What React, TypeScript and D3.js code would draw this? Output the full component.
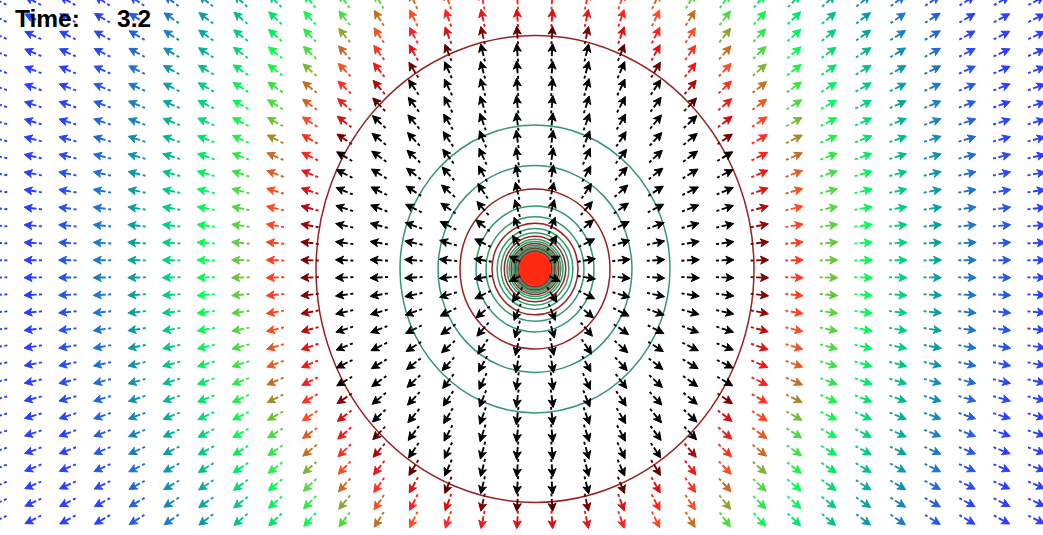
import React from "react";
import * as d3 from "d3";

const WIDTH = 1043;
const HEIGHT = 535;

const TIME_LABEL = "Time:";
const TIME_VALUE = "3.2";

// Arrow grid (column / row index ranges and their pixel extents)
const GRID_COLS = d3.range(0, 31);
const GRID_ROWS = d3.range(0, 31);
const COL_EXTENT = [-1.6, 1036.4];
const ROW_EXTENT = [0.7, 519.7];

// Source position (pixels) and vertical stretch of the field
const SOURCE_X = 535;
const SOURCE_Y = 269;
const ASPECT = 1.066;

// Wave front radius (horizontal px) — inside it the field is black
const WAVE_FRONT = 219;

// Contour radii (horizontal px) and their kind
const CONTOUR_RADII = [219, 135, 97, 75, 59, 49, 43, 37.9, 33.9, 30.7, 28, 25.8, 23.9, 22.2, 20.8, 19.5, 18.4, 17.4, 16.5];
const CONTOUR_KIND = ["b", "g", "g", "b", "g", "g", "b", "g", "g", "b", "g", "g", "b", "g", "g", "b", "g", "g", "b"];
const CONTOUR_COLORS: Record<string, string> = { b: "#992222", g: "#33996a" };

// Colour by distance outside the wave front
const COLOR_DIST = [219, 226, 236, 250, 265, 283, 296, 330, 365, 400, 440, 490, 800];
const COLOR_STOPS = ["#500000", "#800000", "#e01010", "#ff2020", "#ff4a20", "#c07020", "#60d040", "#00ff50", "#00d080", "#0aa0a0", "#2070d0", "#2a40ff", "#3333ff"];

const DOT_RX = 16;
const DOT_RY = 17;

const ARROW_LEN = 18;
const HEAD_LEN = 8;
const HEAD_HALF = 4;

export default function App() {
  const xScale = d3.scaleLinear().domain([0, GRID_COLS.length - 1]).range(COL_EXTENT);
  const yScale = d3.scaleLinear().domain([0, GRID_ROWS.length - 1]).range(ROW_EXTENT);
  const colorScale = d3
    .scaleLinear<string>()
    .domain(COLOR_DIST)
    .range(COLOR_STOPS)
    .interpolate(d3.interpolateRgb)
    .clamp(true);

  const arrows: { key: string; shaft: string; head: string; color: string }[] = [];
  GRID_ROWS.forEach((j) => {
    GRID_COLS.forEach((i) => {
      const cx = xScale(i);
      const cy = yScale(j);
      const dx = cx - SOURCE_X;
      const dy = cy - SOURCE_Y;
      const n = Math.hypot(dx, dy) || 1;
      const ux = dx / n;
      const uy = dy / n;
      const rEll = Math.hypot(dx, dy / ASPECT);
      const color = rEll < WAVE_FRONT ? "#000000" : colorScale(rEll);
      const tx = cx - (ux * ARROW_LEN) / 2;
      const ty = cy - (uy * ARROW_LEN) / 2;
      const hx = cx + (ux * ARROW_LEN) / 2;
      const hy = cy + (uy * ARROW_LEN) / 2;
      const bx = hx - ux * HEAD_LEN;
      const by = hy - uy * HEAD_LEN;
      const px = -uy * HEAD_HALF;
      const py = ux * HEAD_HALF;
      const shaft = d3.path();
      shaft.moveTo(tx, ty);
      shaft.lineTo(bx + ux * 2, by + uy * 2);
      const head = d3.path();
      head.moveTo(hx, hy);
      head.lineTo(bx + px, by + py);
      head.lineTo(bx + ux * 2, by + uy * 2);
      head.lineTo(bx - px, by - py);
      head.closePath();
      arrows.push({ key: `${i}-${j}`, shaft: shaft.toString(), head: head.toString(), color });
    });
  });

  return (
    <svg
      width={WIDTH}
      height={HEIGHT}
      style={{ position: "absolute", left: 0, top: 0, background: "#ffffff" }}
    >
      <rect x={0} y={0} width={WIDTH} height={HEIGHT} fill="#ffffff" />
      <g>
        {CONTOUR_RADII.map((r, k) => (
          <ellipse
            key={k}
            cx={SOURCE_X}
            cy={SOURCE_Y}
            rx={r}
            ry={r * ASPECT}
            fill="none"
            stroke={CONTOUR_COLORS[CONTOUR_KIND[k]]}
            strokeWidth={1.5}
          />
        ))}
      </g>
      <g>
        {arrows.map((a) => (
          <g key={a.key}>
            <path d={a.shaft} stroke={a.color} strokeWidth={1.9} fill="none" strokeDasharray="3 2.5 40" />
            <path d={a.head} fill={a.color} stroke={a.color} strokeWidth={1} strokeLinejoin="round" />
          </g>
        ))}
      </g>
      <ellipse cx={SOURCE_X} cy={SOURCE_Y} rx={DOT_RX} ry={DOT_RY} fill="#ff2a10" />
      <text x={15} y={27} fontFamily="'Liberation Sans', Arial, sans-serif" fontWeight="bold" fontSize={24.5} fill="#000">
        {TIME_LABEL}
      </text>
      <text x={117} y={27} fontFamily="'Liberation Sans', Arial, sans-serif" fontWeight="bold" fontSize={24.5} fill="#000">
        {TIME_VALUE}
      </text>
    </svg>
  );
}
